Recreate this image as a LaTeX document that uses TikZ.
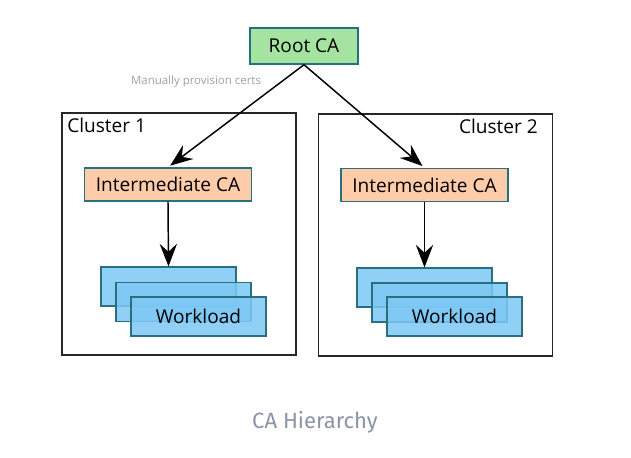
\documentclass[tikz,border=0pt]{standalone}
\usepackage{fontspec}
\setmainfont{Open Sans}
\newfontfamily\captionfont{Fira Sans}
\usepackage{xcolor}
\usepackage{tikz}
\usetikzlibrary{arrows.meta,positioning}

\definecolor{rootgreen}{RGB}{164,228,160}
\definecolor{interpeach}{RGB}{255,204,170}
\definecolor{wlblue}{RGB}{125,200,245}
\definecolor{boxedge}{RGB}{40,112,128}
\definecolor{notegray}{RGB}{160,160,160}
\definecolor{captiongray}{RGB}{138,148,166}

\begin{document}
\begin{tikzpicture}[
  x=0.75pt, y=-0.75pt,
  every node/.style={font=\fontsize{14.3}{17}\selectfont, inner sep=0pt},
  ca/.style={draw=boxedge, line width=1.1pt, minimum height=24.75pt},
  rootca/.style={ca, fill=rootgreen, minimum width=81pt, minimum height=27pt},
  interca/.style={ca, fill=interpeach, minimum width=125pt},
  workload/.style={draw=boxedge, line width=1.1pt, fill=wlblue, fill opacity=0.85, text opacity=1,
    minimum width=101pt, minimum height=29pt},
  cluster/.style={draw=black!85, line width=1.2pt, minimum width=175.5pt, minimum height=181.5pt},
  link/.style={-{Stealth[length=17pt, width=13pt, inset=6pt]}, line width=1.1pt}]

\useasboundingbox (0,0) rectangle (631,457);

% clusters
\node[cluster] (cl1) at (179,234) {};
\node[cluster] (cl2) at (435.5,235) {};
\node[anchor=north west] (cl1label) at (67,118) {Cluster 1};
\node[anchor=north east] (cl2label) at (538,119) {Cluster 2};

% CAs
\node[rootca] (root) at (304,46) {Root CA};
\node[interca] (inter1) at (168,184.5) {Intermediate CA};
\node[interca] (inter2) at (424.5,185) {Intermediate CA};
\node[font=\fontsize{8.6}{10}\selectfont, text=notegray] (note) at (196,82) {Manually provision certs};

% workloads
\node[workload] (wl1a) at (168.5,286.5) {};
\node[workload] (wl1b) at (183.5,302) {};
\node[workload] (wl1c) at (198.5,316.5) {Workload};
\node[workload] (wl2a) at (424.5,287.5) {};
\node[workload] (wl2b) at (439.5,302.5) {};
\node[workload] (wl2c) at (454.5,316.5) {Workload};

\draw[link, shorten >=2pt] (root.south) -- (inter1.north);
\draw[link, shorten >=2pt] (root.south) -- (inter2.north);
\draw[link] (inter1.south) -- (wl1a.north);
\draw[link] (inter2.south) -- (wl2a.north);

\node[font=\captionfont\fontsize{16.5}{20}\selectfont, text=captiongray] (caption) at (315,422) {CA Hierarchy};
\end{tikzpicture}
\end{document}
